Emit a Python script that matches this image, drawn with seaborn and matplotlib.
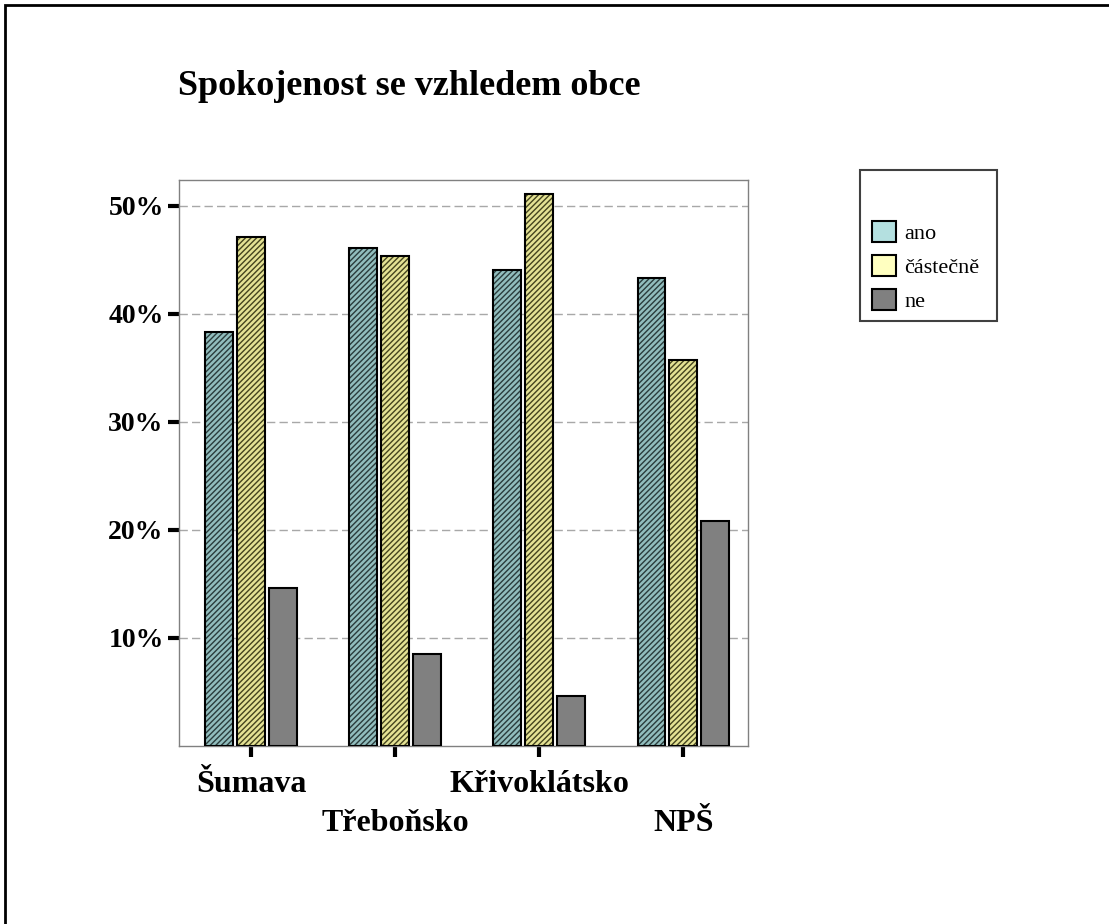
import matplotlib
matplotlib.use("Agg")
import matplotlib.pyplot as plt
import matplotlib.transforms as mtransforms
import seaborn as sns
import pandas as pd
from matplotlib.patches import Patch, Rectangle

regions = ["Šumava", "Třeboňsko", "Křivoklátsko", "NPŠ"]
answers = ["ano", "částečně", "ne"]
ano = [38.3, 46.1, 44.1, 43.3]
castecne = [47.1, 45.4, 51.1, 35.7]
ne = [14.6, 8.5, 4.6, 20.8]
yticks = [10, 20, 30, 40, 50]

df = pd.DataFrame({
    "region": regions * 3,
    "answer": [a for a in answers for _ in regions],
    "pct": ano + castecne + ne,
})

sns.set_style("white")
plt.rcParams["font.family"] = ["Liberation Serif", "DejaVu Serif"]
plt.rcParams["text.color"] = "black"
plt.rcParams["xtick.color"] = "black"
plt.rcParams["ytick.color"] = "black"
plt.rcParams["hatch.linewidth"] = 1.0

fig = plt.figure(figsize=(11.09, 9.24), dpi=100)
ax = fig.add_axes([179 / 1109, 1 - 746 / 924, (748 - 179) / 1109, (746 - 180) / 924])

bar_colors = ["#8ac4c4", "#f2ee86", "#808080"]
hatch_colors = ["#2a3c3c", "#44441e", "#808080"]
sns.barplot(
    data=df,
    x="region",
    y="pct",
    hue="answer",
    palette=bar_colors,
    width=0.66,
    gap=0.12,
    linewidth=0,
    legend=False,
    ax=ax,
)

# hatch fill + black outline on each bar
hatches = ["//////", "//////", ""]
for cont, h, hc in zip(ax.containers, hatches, hatch_colors):
    for bar in cont:
        bar.set_edgecolor(hc)
        bar.set_linewidth(0)
        bar.set_hatch(h)
for bar in list(ax.patches):
    ax.add_patch(Rectangle(bar.get_xy(), bar.get_width(), bar.get_height(),
                           fill=False, edgecolor="black", linewidth=1.5, zorder=3))

ax.set_xlim(-0.5, 3.45)
ax.set_ylim(0, 52.4)
ax.set_yticks(yticks)
ax.set_yticklabels([f"{v}%" for v in yticks], fontsize=20, fontweight="bold")
ax.set_xticks(range(len(regions)))
ax.set_xticklabels(regions, fontsize=23, fontweight="bold")
ax.tick_params(axis="both", direction="out", length=8, width=3, color="black",
               bottom=True, left=True)
ax.tick_params(axis="y", pad=3)
ax.tick_params(axis="x", pad=9)
ax.set_xlabel("")
ax.set_ylabel("")

# staggered x labels: every second one a row lower
shift = mtransforms.ScaledTranslation(0, -39 / 100, fig.dpi_scale_trans)
for i, lab in enumerate(ax.get_xticklabels()):
    if i % 2 == 1:
        lab.set_transform(lab.get_transform() + shift)

ax.yaxis.grid(True, linestyle=(0, (6, 3)), color="#a8a8a8", linewidth=1)
ax.set_axisbelow(True)
for s in ax.spines.values():
    s.set_color("#808080")
    s.set_linewidth(1)

fig.text(178 / 1109, 1 - 95 / 924, "Spokojenost se vzhledem obce",
         fontsize=26, fontweight="bold", va="baseline", ha="left")

# legend box
fig.patches.append(Rectangle((860 / 1109, 1 - 321 / 924), (997 - 860) / 1109, (321 - 170) / 924,
                             transform=fig.transFigure, fill=False,
                             edgecolor="#404040", linewidth=1.5))
legend_colors = ["#b4e0e0", "#ffffc0", "#808080"]
handles = [Patch(facecolor=c, edgecolor="black", linewidth=1.5) for c in legend_colors]
fig.legend(handles, answers, loc="upper left",
           bbox_to_anchor=(872 / 1109, 1 - 221 / 924), bbox_transform=fig.transFigure,
           frameon=False, fontsize=16, borderpad=0, handlelength=1.08, handleheight=1.08,
           labelspacing=0.5, handletextpad=0.38, borderaxespad=0)

# outer frame
fig.patches.append(Rectangle((5 / 1109, -0.05), 1.1, 1 - 5 / 924 + 0.05,
                             transform=fig.transFigure, fill=False,
                             edgecolor="black", linewidth=2))

plt.savefig("out.png", dpi=100)
